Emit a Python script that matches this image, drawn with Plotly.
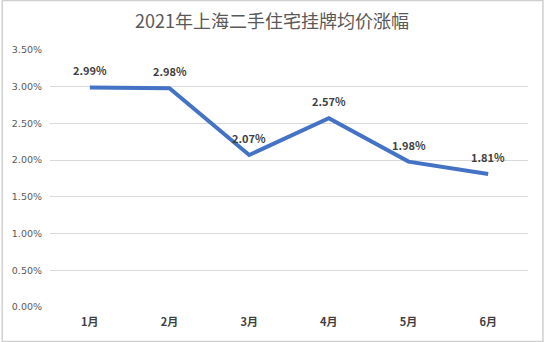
import plotly.graph_objects as go

months = ["1月", "2月", "3月", "4月", "5月", "6月"]
values = [2.99, 2.98, 2.07, 2.57, 1.98, 1.81]
label_texts = ["2.99%", "2.98%", "2.07%", "2.57%", "1.98%", "1.81%"]
ytick_vals = [0, 0.5, 1.0, 1.5, 2.0, 2.5, 3.0, 3.5]
ytick_text = ["0.00%", "0.50%", "1.00%", "1.50%", "2.00%", "2.50%", "3.00%", "3.50%"]
title_text = "2021年上海二手住宅挂牌均价涨幅"

fig = go.Figure()
fig.add_trace(go.Scatter(
    x=months, y=values, mode="lines",
    line=dict(color="#4472C4", width=4),
    hoverinfo="skip", showlegend=False,
))

for m, v, t in zip(months, values, label_texts):
    fig.add_annotation(
        x=m, y=v, text="<b>" + t + "</b>", showarrow=False,
        yshift=17, font=dict(family="Noto Sans CJK SC", size=11, color="#404040"),
    )

fig.update_layout(
    width=544, height=342,
    margin=dict(l=48, r=16, t=50, b=35),
    paper_bgcolor="white", plot_bgcolor="white",
    title=dict(text=title_text, x=0.5, xanchor="center", y=1 - 22 / 342, yanchor="middle",
               font=dict(family="Noto Sans CJK SC", size=18, color="#595959")),
    xaxis=dict(
        type="category", showgrid=False, zeroline=False, showline=False,
        ticks="", ticklabelstandoff=7,
        tickfont=dict(family="Noto Sans CJK SC", size=11, color="#404040", weight="bold"),
        range=[-0.5, 5.5],
    ),
    yaxis=dict(
        range=[0, 3.5], tickvals=ytick_vals, ticktext=ytick_text,
        showgrid=True, gridcolor="#d9d9d9", gridwidth=1, zeroline=False,
        tickfont=dict(family="DejaVu Sans", size=9.5, color="#595959"),
        ticks="", showline=False, ticklabelstandoff=7,
    ),
    shapes=[dict(type="rect", xref="paper", yref="paper",
                 x0=-48 / 480, x1=1 + 15 / 480, y0=-34.5 / 257, y1=1 + 49.5 / 257,
                 line=dict(color="#d0d0d0", width=1.5))],
)

fig.write_html("out.html")
